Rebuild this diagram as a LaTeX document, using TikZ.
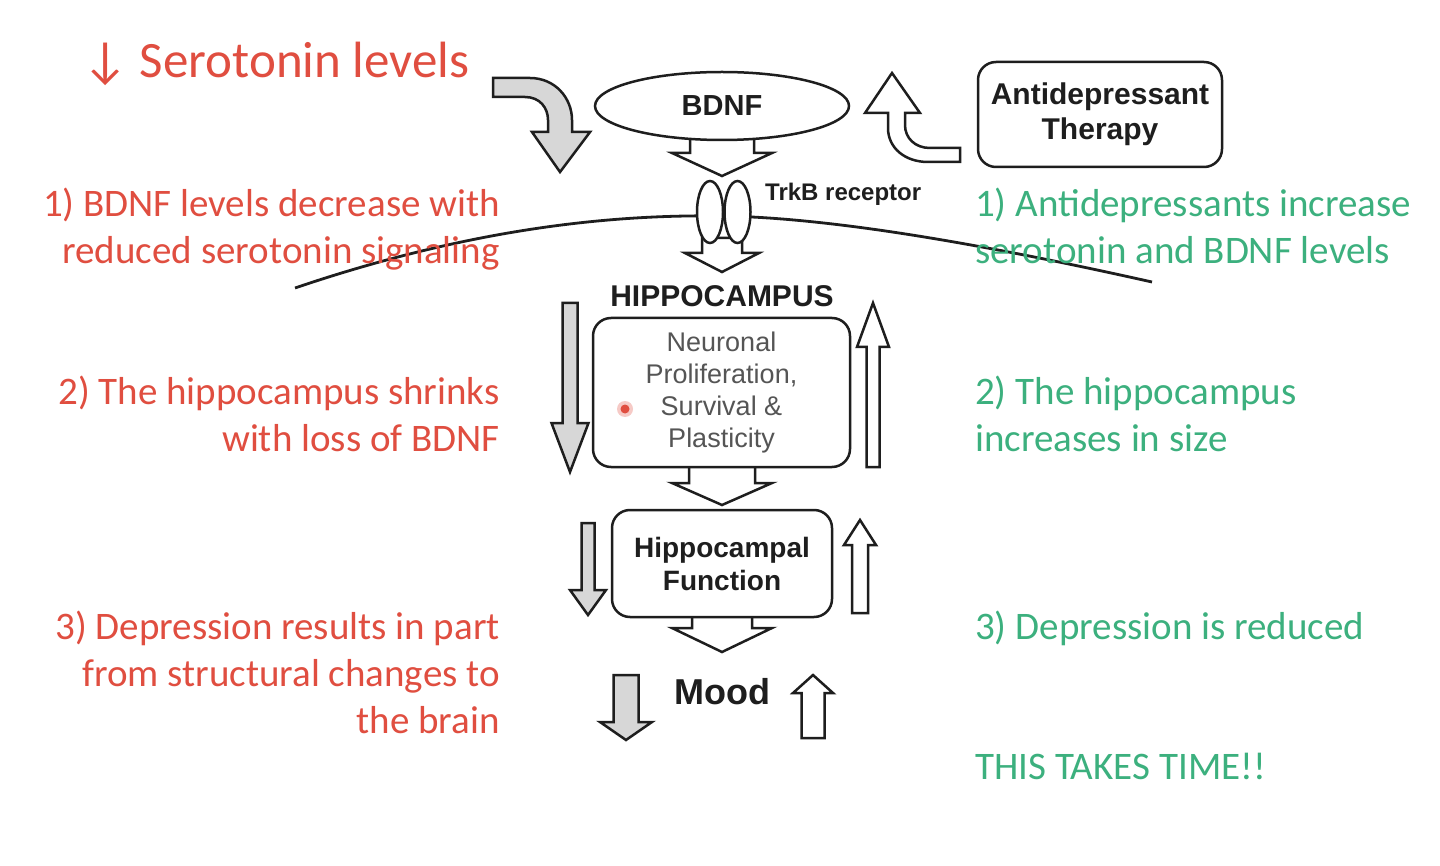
\documentclass[tikz,border=0pt]{standalone}
\usepackage{fontspec}
\setmainfont{Carlito}
\newfontfamily\arialf{Liberation Sans}
\usetikzlibrary{shapes.geometric}
\definecolor{txtred}{RGB}{224,78,64}
\definecolor{txtgreen}{RGB}{60,176,126}
\definecolor{ink}{RGB}{30,30,30}
\definecolor{arrowgray}{RGB}{215,215,215}
\definecolor{softink}{RGB}{85,85,85}
\newcommand{\blockarrow}[7]{\draw[#1] ({#2-#3},#4) -- ({#2-#3},#5) -- ({#2-#6},#5) -- (#2,#7) -- ({#2+#6},#5) -- ({#2+#3},#5) -- ({#2+#3},#4) -- cycle;}
\begin{document}
\begin{tikzpicture}[x=1pt,y=-1pt,
  redtxt/.style={text=txtred, font=\fontsize{39}{47}\selectfont, align=right, anchor=base east, inner sep=0},
  greentxt/.style={text=txtgreen, font=\fontsize{39}{47}\selectfont, align=left, anchor=base west, inner sep=0},
  outline/.style={draw=ink, line width=2.5pt},
  grayarrow/.style={outline, fill=arrowgray, line join=miter},
  openarrow/.style={outline, fill=white, line join=miter},
  boxlabel/.style={font=\arialf\bfseries\fontsize{28}{33}\selectfont, text=ink, align=center},
  roundbox/.style={outline, rounded corners=18pt, fill=white, inner sep=0},
]
\fill[white] (0,0) rectangle (1440,866);
\useasboundingbox (0,0) rectangle (1440,866);

% membrane
\draw[ink, line width=2.8pt] (295,288) .. controls (460,232) and (600,214) .. (723,216)
  .. controls (840,218) and (1000,248) .. (1152,282);

% curved arrows
\draw[grayarrow] (493,78) -- (530,78) .. controls (555,78) and (572,98) .. (572,120) -- (572,132) -- (590,132) -- (560,172) -- (532,132) -- (548,132) -- (548,120) .. controls (548,108) and (540,97) .. (525,97) -- (493,97) -- cycle;
\draw[openarrow] (960,148) -- (930,148) .. controls (915,148) and (905,138) .. (905,125) -- (905,113) -- (920,113) -- (892,73) -- (865,113) -- (888,113) -- (888,128) .. controls (888,148) and (905,162) .. (928,162) -- (960,162) -- cycle;

% main chain block arrows
\blockarrow{openarrow}{722}{32}{128}{153}{50}{176}
\blockarrow{openarrow}{722}{20}{238}{253}{37}{272}
\blockarrow{openarrow}{722}{33}{460}{483}{50}{505}
\blockarrow{openarrow}{722}{30}{610}{628}{50}{652}

% side arrows
\blockarrow{grayarrow}{570}{7.5}{303}{423}{18.5}{472}
\blockarrow{openarrow}{873}{6.5}{467}{347}{16}{303}
\blockarrow{grayarrow}{588}{6.5}{523}{590}{18}{615}
\blockarrow{openarrow}{860}{8}{613}{545}{16}{520}
\blockarrow{grayarrow}{626}{12.5}{675}{722}{26}{740}
\blockarrow{openarrow}{813}{11.5}{738}{693}{20}{675}

% nodes
\node[ellipse, outline, fill=white, minimum width=254pt, minimum height=68pt, inner sep=0,
  font=\arialf\bfseries\fontsize{29}{33}\selectfont, text=ink] (bdnf) at (722,106) {BDNF};
\node[ellipse, outline, fill=white, minimum width=26pt, minimum height=62pt, inner sep=0] (trkl) at (710,212) {};
\node[ellipse, outline, fill=white, minimum width=26pt, minimum height=62pt, inner sep=0] (trkr) at (737.5,212) {};
\node[anchor=west, inner sep=0, font=\arialf\bfseries\fontsize{24}{28}\selectfont, text=ink] (trklabel) at (765,194) {TrkB receptor};
\node[inner sep=0, font=\arialf\bfseries\fontsize{30}{34}\selectfont, text=ink] (hippo) at (722,296) {HIPPOCAMPUS};
\node[roundbox, minimum width=257pt, minimum height=149pt, font=\arialf\fontsize{27}{31.7}\selectfont, text=softink, align=center] (neuro) at (721.5,392.5) {Neuronal\\Proliferation,\\Survival \&\\Plasticity};
\fill[txtred!30] (625,409) circle (8);
\fill[txtred] (625,409) circle (4.5);
\node[roundbox, minimum width=220pt, minimum height=107pt, boxlabel] (hfunc) at (722,563.5) {Hippocampal\\Function};
\node[inner sep=0, font=\arialf\bfseries\fontsize{36}{40}\selectfont, text=ink] (mood) at (722,692) {Mood};
\node[roundbox, minimum width=244pt, minimum height=105pt, boxlabel, font=\arialf\bfseries\fontsize{30}{35}\selectfont] (therapy) at (1100,114.5) {Antidepressant\\Therapy};

% texts (base anchor = baseline of the last line)
\node[anchor=base west, inner sep=0, text=txtred, font=\fontsize{51}{60}\selectfont] (sero) at (82,78) {↓ Serotonin levels};
\node[redtxt] (r1) at (500,264) {1) BDNF levels decrease with\\reduced serotonin signaling};
\node[redtxt] (r2) at (500,451) {2) The hippocampus shrinks\\with loss of BDNF};
\node[redtxt] (r3) at (500,733) {3) Depression results in part\\from structural changes to\\the brain};
\node[greentxt] (g1) at (975,264) {1) Antidepressants increase\\serotonin and BDNF levels};
\node[greentxt] (g2) at (975,451) {2) The hippocampus\\increases in size};
\node[greentxt] (g3) at (975,639) {3) Depression is reduced};
\node[greentxt] (g4) at (975,779) {THIS TAKES TIME!!};
\end{tikzpicture}
\end{document}
